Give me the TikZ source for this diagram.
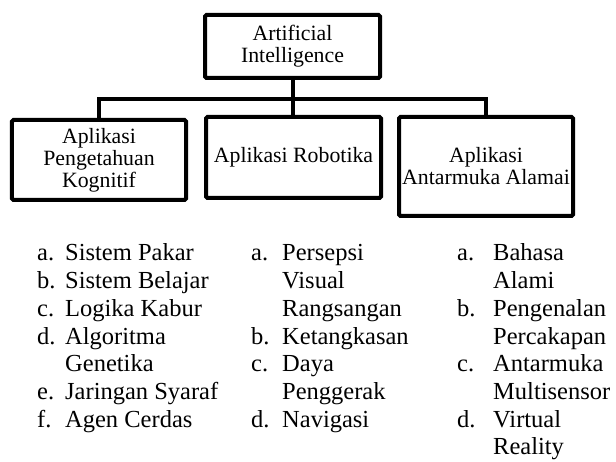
\documentclass[tikz,border=0pt]{standalone}
\usepackage{fontspec}
\setmainfont{Liberation Serif}
\begin{document}
\begin{tikzpicture}[x=1bp,y=-1bp,
  box/.style={draw, line width=4bp, rounded corners=1.5bp, inner sep=0pt, align=center,
    font=\fontsize{21.8bp}{22bp}\selectfont},
  link/.style={line width=4bp, line join=miter},
  listcol/.style={anchor=base west, inner sep=0pt, font=\fontsize{24.5bp}{27.7bp}\selectfont}]
\useasboundingbox (0,0) rectangle (616,462);
% boxes
\node[box, minimum width=175bp, minimum height=63bp] (ai) at (292.5,46.5) {Artificial\\Intelligence};
\node[box, minimum width=174bp, minimum height=80bp] (kog) at (99,160) {Aplikasi\\Pengetahuan\\Kognitif};
\node[box, minimum width=175bp, minimum height=81bp] (rob) at (293.5,157.5) {Aplikasi Robotika};
\node[box, minimum width=174bp, minimum height=99bp] (ant) at (486,166.5) {Aplikasi\\Antarmuka Alamai};
% connectors
\coordinate (bus) at (0,99);
\draw[link] (ai.south) -- (ai.south |- rob.north);
\draw[link] (kog.north) -- (kog.north |- bus) -- (ant.north |- bus) -- (ant.north);
% lists
\node[listcol] (l1) at (37,261) {\begin{tabular}[t]{@{}p{28bp}@{}l@{}}
a. & Sistem Pakar\\
b. & Sistem Belajar\\
c. & Logika Kabur\\
d. & Algoritma\\
   & Genetika\\
e. & Jaringan Syaraf\\
f. & Agen Cerdas
\end{tabular}};
\node[listcol] (l2) at (251,261) {\begin{tabular}[t]{@{}p{31bp}@{}l@{}}
a. & Persepsi\\
   & Visual\\
   & Rangsangan\\
b. & Ketangkasan\\
c. & Daya\\
   & Penggerak\\
d. & Navigasi
\end{tabular}};
\node[listcol] (l3) at (457,261) {\begin{tabular}[t]{@{}p{36bp}@{}l@{}}
a. & Bahasa\\
   & Alami\\
b. & Pengenalan\\
   & Percakapan\\
c. & Antarmuka\\
   & Multisensor\\
d. & Virtual\\
   & Reality
\end{tabular}};
\end{tikzpicture}
\end{document}
